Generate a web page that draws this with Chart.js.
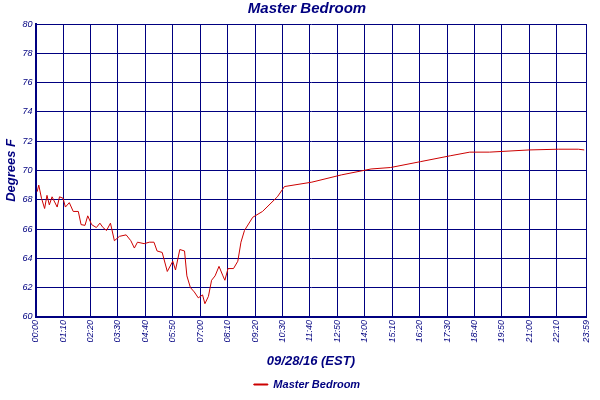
<!DOCTYPE html>
<html>
<head>
<script src="https://cdn.jsdelivr.net/npm/chart.js@4"></script>
<style>
body { margin: 0; background: #fff; }
#wrap { width: 600px; height: 400px; }
</style>
</head>
<body>
<div id="wrap"><canvas id="c"></canvas></div>
<script>
// minutes since midnight
const minutes = [4, 8, 15, 23, 29, 35, 42, 55, 61, 70, 76, 86, 96, 109, 116, 126, 133, 143, 155, 164,
    172, 181, 191, 201, 214, 231, 243, 252, 260, 277, 290, 302, 310, 323, 336, 350, 357, 368, 380, 386,
    395, 405, 415, 426, 432, 441, 449, 458, 468, 478, 483, 491, 505, 516, 524, 533, 554, 579, 617, 635,
    705, 781, 856, 906, 982, 1058, 1108, 1158, 1259, 1335, 1385, 1400];
const temps = [68.55, 69.0, 68.1, 67.4, 68.3, 67.65, 68.2, 67.5, 68.2, 68.1, 67.5, 67.8, 67.2, 67.2, 66.3, 66.25, 66.9, 66.3, 66.1, 66.4,
    66.1, 65.9, 66.4, 65.2, 65.5, 65.6, 65.2, 64.7, 65.1, 65.0, 65.1, 65.1, 64.5, 64.4, 63.1, 63.8, 63.2, 64.6, 64.5, 62.8,
    62.0, 61.7, 61.3, 61.5, 60.9, 61.4, 62.5, 62.8, 63.45, 62.8, 62.5, 63.3, 63.3, 63.8, 65.1, 65.9, 66.8, 67.2, 68.2, 68.9,
    69.2, 69.7, 70.1, 70.2, 70.6, 71.0, 71.25, 71.25, 71.4, 71.45, 71.45, 71.4];
const tickMinutes = [0, 70, 140, 210, 280, 350, 420, 490, 560, 630, 700, 770, 840, 910, 980, 1050, 1120, 1190, 1260, 1330, 1405];
const tickLabels = ['00:00', '01:10', '02:20', '03:30', '04:40', '05:50', '07:00', '08:10', '09:20', '10:30', '11:40',
    '12:50', '14:00', '15:10', '16:20', '17:30', '18:40', '19:50', '21:00', '22:10', '23:59'];

const navy = '#000080';
const points = minutes.map((m, i) => ({ x: m, y: temps[i] }));

new Chart(document.getElementById('c'), {
    type: 'line',
    data: {
        datasets: [{
            label: 'Master Bedroom',
            data: points,
            borderColor: '#cc0000',
            backgroundColor: '#cc0000',
            borderWidth: 1,
            pointRadius: 0,
            tension: 0
        }]
    },
    options: {
        responsive: true,
        maintainAspectRatio: false,
        animation: false,
        layout: { padding: { left: 4, right: -10 } },
        scales: {
            x: {
                type: 'linear',
                min: 0,
                max: 1405,
                afterBuildTicks: axis => { axis.ticks = tickMinutes.map(v => ({ value: v })); },
                ticks: {
                    autoSkip: false,
                    maxRotation: 90,
                    minRotation: 90,
                    color: navy,
                    font: { family: 'Liberation Sans', style: 'italic', size: 9 },
                    callback: (v) => tickLabels[tickMinutes.indexOf(v)]
                },
                grid: { color: navy, lineWidth: 1, drawTicks: false },
                border: { color: navy, width: 2 },
                title: {
                    display: true,
                    text: '09/28/16 (EST)',
                    color: navy,
                    font: { family: 'Liberation Sans', style: 'italic', weight: 'bold', size: 13 },
                    padding: { top: 8, bottom: 4 }
                }
            },
            y: {
                min: 60,
                max: 80,
                ticks: {
                    stepSize: 2,
                    color: navy,
                    font: { family: 'Liberation Sans', style: 'italic', size: 9 }
                },
                grid: { color: navy, lineWidth: 1, drawTicks: false },
                border: { color: navy, width: 2 },
                title: {
                    display: true,
                    text: 'Degrees F',
                    color: navy,
                    font: { family: 'Liberation Sans', style: 'italic', weight: 'bold', size: 13 },
                    padding: 0
                }
            }
        },
        plugins: {
            title: {
                display: true,
                text: 'Master Bedroom',
                color: navy,
                font: { family: 'Liberation Sans', style: 'italic', weight: 'bold', size: 15 },
                padding: { top: 0, bottom: 6 }
            },
            legend: {
                display: true,
                position: 'bottom',
                labels: {
                    color: navy,
                    boxWidth: 14,
                    boxHeight: 1,
                    padding: 6,
                    font: { family: 'Liberation Sans', style: 'italic', weight: 'bold', size: 11 }
                }
            },
            tooltip: { enabled: false }
        }
    }
});
</script>
</body>
</html>
